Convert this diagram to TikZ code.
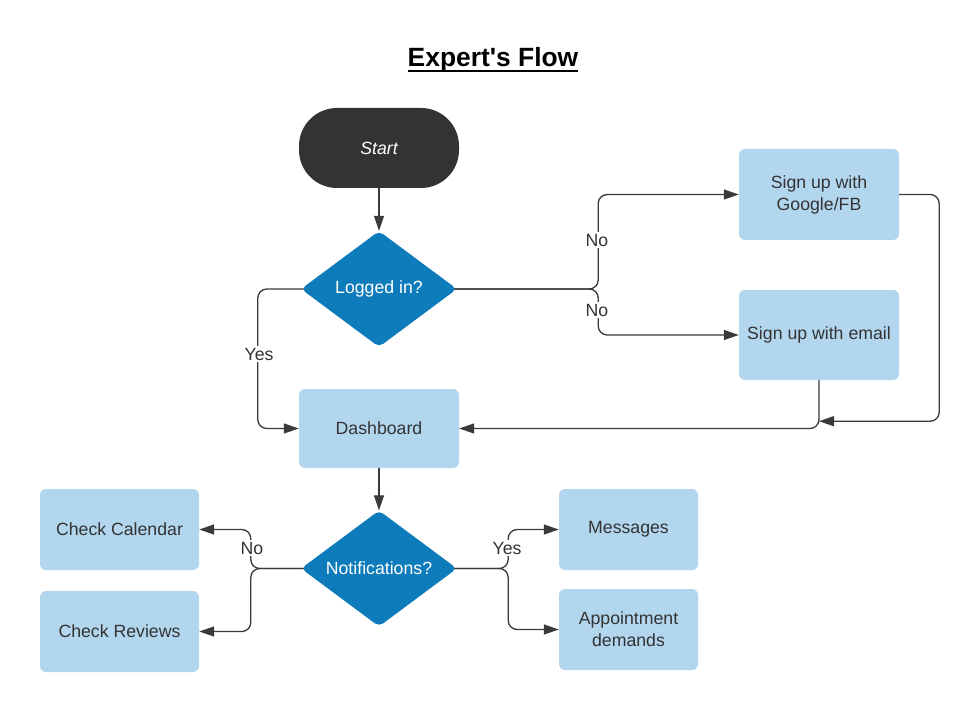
\documentclass[tikz,border=0pt]{standalone}
\usepackage{fontspec}
\setmainfont{Liberation Sans}
\usetikzlibrary{shapes.geometric,arrows.meta}
\definecolor{dk}{HTML}{333333}
\definecolor{ln}{HTML}{3A3A3A}
\definecolor{bl}{HTML}{0E7CBA}
\definecolor{lb}{HTML}{B3D6EF}
\pgfdeclarelayer{bg}
\pgfsetlayers{bg,main}
\begin{document}
\begin{tikzpicture}[x=1pt,y=-1pt,
  font=\fontsize{17.7}{22}\selectfont,
  box/.style={fill=lb, rounded corners=6pt, minimum width=160pt, minimum height=80pt, text=dk, align=center, inner sep=2pt},
  startbox/.style={fill=dk, rounded corners=38pt, minimum width=160pt, minimum height=80pt, text=white, inner sep=2pt},
  dec/.style={diamond, shape aspect=1.35, fill=bl, rounded corners=5pt, minimum width=156pt, minimum height=116pt, text=white, inner sep=0pt},
  conn/.style={draw=ln, line width=1.3pt, rounded corners=9pt, -{Triangle[length=15pt,width=10pt]}},
  lbl/.style={fill=white, text=dk, inner sep=2pt}]
\useasboundingbox (0,0) rectangle (980,714);

% title
\node[font=\fontsize{26.4}{32}\selectfont\bfseries, anchor=base, inner sep=0pt] (title) at (493,67) {Expert\textquotesingle s Flow};
\draw[line width=2.2pt] ([yshift=-3.8pt]title.base west) -- ([yshift=-3.8pt]title.base east);

% nodes
\node[startbox] (start) at (379,148) {\itshape Start};
\node[dec] (login) at (379,289) {Logged in?};
\node[box, minimum height=91pt] (google) at (819,194.5) {Sign up with\\Google/FB};
\node[box, minimum height=90pt] (email) at (819,335) {Sign up with email};
\node[box, minimum height=79pt] (dash) at (379,428.5) {Dashboard};
\node[dec] (notif) at (379,568.5) {Notifications?};
\node[box, minimum width=159pt, minimum height=81pt] (cal) at (119.5,529.5) {Check Calendar};
\node[box, minimum width=159pt, minimum height=81pt] (rev) at (119.5,631.5) {Check Reviews};
\node[box, minimum width=139pt, minimum height=81pt] (msg) at (628.5,529.5) {Messages};
\node[box, minimum width=139pt, minimum height=81pt] (app) at (628.5,629.5) {Appointment\\demands};

\coordinate (j) at ([yshift=-41pt]email.south);

% connectors
\begin{pgfonlayer}{bg}
\draw[conn] (start) -- (login);
\draw[conn, shorten <=-4pt] (login.east) -- ++(141,0) |- (google.west);
\draw[conn, shorten <=-4pt] (login.east) -- ++(141,0) |- (email.west);
\draw[conn, shorten <=-4pt] (login.west) -- ++(-43,0) |- (dash.west);
\draw[conn] (google.east) -- ++(40,0) |- (j);
\draw[conn] (email.south) |- (dash.east);
\draw[conn] (dash) -- (notif);
\draw[conn, shorten <=-4pt] (notif.west) -- ++(-50,0) |- (cal.east);
\draw[conn, shorten <=-4pt] (notif.west) -- ++(-50,0) |- (rev.east);
\draw[conn, shorten <=-4pt] (notif.east) -- ++(51,0) |- (msg.west);
\draw[conn, shorten <=-4pt] (notif.east) -- ++(51,0) |- (app.west);
\end{pgfonlayer}

% labels
\node[lbl] (no1) at (597,240) {No};
\node[lbl] (no2) at (597,310) {No};
\node[lbl] (yes1) at (259,354) {Yes};
\node[lbl] (no3) at (252,548) {No};
\node[lbl] (yes2) at (507,548) {Yes};
\end{tikzpicture}
\end{document}
